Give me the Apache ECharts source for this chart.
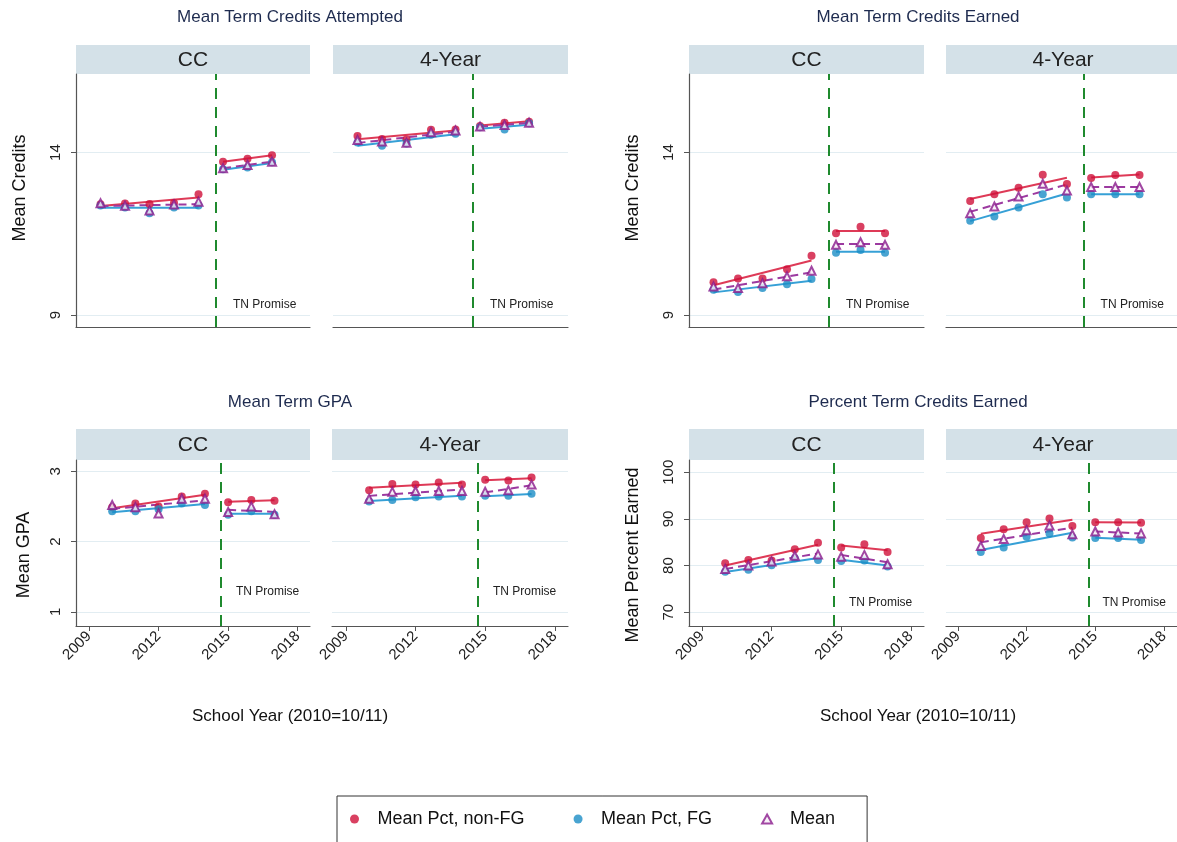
<!DOCTYPE html>
<html><head><meta charset="utf-8">
<script src="https://cdn.jsdelivr.net/npm/echarts@6/dist/echarts.min.js"></script>
<style>html,body{margin:0;padding:0;background:#fff}#c{width:1177px;height:842px}</style>
</head><body><div id="c"></div>
<script>
// ---------- data ----------
const years = [2010, 2011, 2012, 2013, 2014, 2015, 2016, 2017];
const seriesNames = ['Mean Pct, non-FG', 'Mean Pct, FG', 'Mean'];
const panelTitles = ['Mean Term Credits Attempted', 'Mean Term Credits Earned', 'Mean Term GPA', 'Percent Term Credits Earned'];
const yTitles = ['Mean Credits', 'Mean Credits', 'Mean GPA', 'Mean Percent Earned'];
const subLabels = ['CC', '4-Year'];
const xTitle = 'School Year (2010=10/11)';
const xTicks = [2009, 2012, 2015, 2018];
const yTicksCredits = [9, 14];
const yTicksGPA = [1, 2, 3];
const yTicksPct = [70, 80, 90, 100];
const policyYear = 2014.7;
const policyLabel = 'TN Promise';

// Mean Term Credits Attempted
const attCC_nonFG = [12.41, 12.43, 12.42, 12.45, 12.72, 13.72, 13.81, 13.92];
const attCC_FG    = [12.37, 12.31, 12.13, 12.31, 12.37, 13.49, 13.54, 13.70];
const attCC_mean  = [12.44, 12.36, 12.22, 12.40, 12.49, 13.52, 13.62, 13.72];
const att4Y_nonFG = [14.51, 14.42, 14.40, 14.70, 14.71, 14.82, 14.92, 14.95];
const att4Y_FG    = [14.31, 14.21, 14.28, 14.55, 14.58, 14.78, 14.71, 14.90];
const att4Y_mean  = [14.39, 14.34, 14.30, 14.63, 14.68, 14.80, 14.85, 14.92];
// Mean Term Credits Earned
const earnCC_nonFG = [10.01, 10.12, 10.12, 10.41, 10.82, 11.52, 11.72, 11.52];
const earnCC_FG    = [9.78, 9.71, 9.83, 9.95, 10.11, 10.92, 11.00, 10.92];
const earnCC_mean  = [9.88, 9.83, 9.98, 10.19, 10.36, 11.16, 11.24, 11.16];
const earn4Y_nonFG = [12.51, 12.72, 12.92, 13.32, 13.03, 13.22, 13.31, 13.31];
const earn4Y_FG    = [11.90, 12.03, 12.31, 12.72, 12.62, 12.72, 12.72, 12.72];
const earn4Y_mean  = [12.13, 12.34, 12.65, 13.04, 12.83, 12.94, 12.94, 12.94];
// Mean Term GPA
const gpaCC_nonFG = [2.49, 2.54, 2.50, 2.64, 2.68, 2.56, 2.59, 2.58];
const gpaCC_FG    = [2.43, 2.43, 2.46, 2.54, 2.52, 2.38, 2.43, 2.38];
const gpaCC_mean  = [2.52, 2.49, 2.40, 2.61, 2.61, 2.42, 2.50, 2.39];
const gpa4Y_nonFG = [2.73, 2.82, 2.81, 2.84, 2.81, 2.88, 2.87, 2.91];
const gpa4Y_FG    = [2.57, 2.59, 2.63, 2.64, 2.64, 2.65, 2.65, 2.68];
const gpa4Y_mean  = [2.61, 2.71, 2.72, 2.72, 2.72, 2.71, 2.73, 2.81];
// Percent Term Credits Earned
const pctCC_nonFG = [80.5, 81.2, 81.1, 83.5, 84.9, 83.9, 84.6, 82.9];
const pctCC_FG    = [78.7, 79.1, 80.1, 81.6, 81.2, 81.0, 81.1, 79.8];
const pctCC_mean  = [79.3, 80.0, 80.9, 82.1, 82.4, 81.9, 82.3, 80.3];
const pct4Y_nonFG = [85.9, 87.8, 89.3, 90.1, 88.5, 89.3, 89.3, 89.2];
const pct4Y_FG    = [82.9, 83.9, 86.2, 86.9, 86.0, 85.9, 85.9, 85.5];
const pct4Y_mean  = [84.2, 85.7, 87.6, 88.6, 86.7, 87.3, 87.1, 86.9];

// ---------- structure ----------
const panels = [
  { title: panelTitles[0], yTitle: yTitles[0], yTicks: yTicksCredits, yRange: [8.63, 16.42], bottomRow: false,
    subs: [[attCC_nonFG, attCC_FG, attCC_mean], [att4Y_nonFG, att4Y_FG, att4Y_mean]], tn: 9.31 },
  { title: panelTitles[1], yTitle: yTitles[1], yTicks: yTicksCredits, yRange: [8.63, 16.42], bottomRow: false,
    subs: [[earnCC_nonFG, earnCC_FG, earnCC_mean], [earn4Y_nonFG, earn4Y_FG, earn4Y_mean]], tn: 9.31 },
  { title: panelTitles[2], yTitle: yTitles[2], yTicks: yTicksGPA, yRange: [0.80, 3.16], bottomRow: true,
    subs: [[gpaCC_nonFG, gpaCC_FG, gpaCC_mean], [gpa4Y_nonFG, gpa4Y_FG, gpa4Y_mean]], tn: 1.29 },
  { title: panelTitles[3], yTitle: yTitles[3], yTicks: yTicksPct, yRange: [67.06, 102.63], bottomRow: true,
    subs: [[pctCC_nonFG, pctCC_FG, pctCC_mean], [pct4Y_nonFG, pct4Y_FG, pct4Y_mean]], tn: 72.0 }
];

// layout (pixels)
const gridBoxes = [
  [{left: 76, top: 74, width: 234, height: 253, xr: [2009, 2018.55]}, {left: 333, top: 74, width: 235, height: 253, xr: [2009, 2018.59]}],
  [{left: 689, top: 74, width: 235, height: 253, xr: [2009, 2018.59]}, {left: 946, top: 74, width: 234, height: 253, xr: [2009, 2018.55]}],
  [{left: 76, top: 460, width: 234, height: 166, xr: [2008.44, 2018.53]}, {left: 332, top: 460, width: 236, height: 166, xr: [2008.40, 2018.57]}],
  [{left: 689, top: 460, width: 235, height: 166, xr: [2008.44, 2018.57]}, {left: 946, top: 460, width: 234, height: 166, xr: [2008.48, 2018.57]}]
];
const panelCenters = [290, 918, 290, 918];
const titleY = [17, 17, 402, 402];
const yTitleX = [20, 633, 24, 633];
const yTitleY = [188, 188, 555, 555];
const stripBoxes = [[45, 29], [45, 29], [429, 31], [429, 31]];

const colors = ['#cf1039', '#1b8dc6', '#8a1a8c'];
const lineColors = ['#de3a57', '#36a0d6', '#9c3aa0'];
const FONT = '"Liberation Sans", Arial, sans-serif';

function fitSegment(xs, ys) {
  const n = xs.length;
  const mx = xs.reduce((a, b) => a + b, 0) / n;
  const my = ys.reduce((a, b) => a + b, 0) / n;
  let sxy = 0, sxx = 0;
  for (let i = 0; i < n; i++) { sxy += (xs[i] - mx) * (ys[i] - my); sxx += (xs[i] - mx) * (xs[i] - mx); }
  const b = sxy / sxx, a = my - b * mx;
  return [[xs[0], a + b * xs[0]], [xs[n - 1], a + b * xs[n - 1]]];
}

const grids = [], xAxes = [], yAxes = [], scatterSeries = [], lineSeries = [], graphics = [];

panels.forEach((p, pi) => {
  graphics.push({ type: 'text', x: panelCenters[pi], y: titleY[pi],
    style: { text: p.title, font: '17px ' + FONT, fill: '#1e2b4f', textAlign: 'center', textVerticalAlign: 'middle' } });
  graphics.push({ type: 'text', x: yTitleX[pi], y: yTitleY[pi], rotation: Math.PI / 2,
    style: { text: p.yTitle, font: '18px ' + FONT, fill: '#111', textAlign: 'center', textVerticalAlign: 'middle' } });
  if (p.bottomRow) {
    graphics.push({ type: 'text', x: panelCenters[pi], y: 716,
      style: { text: xTitle, font: '17px ' + FONT, fill: '#111', textAlign: 'center', textVerticalAlign: 'middle' } });
  }
  p.subs.forEach((sub, si) => {
    const g = grids.length;
    const box = gridBoxes[pi][si];
    grids.push({ left: box.left, top: box.top, width: box.width, height: box.height, containLabel: false });
    const [sy, sh] = stripBoxes[pi];
    graphics.push({ type: 'rect', shape: { x: box.left, y: sy, width: box.width, height: sh }, style: { fill: '#d4e1e8' }, z: 0 });
    graphics.push({ type: 'text', x: box.left + box.width / 2, y: sy + sh / 2 + 1,
      style: { text: subLabels[si], font: '21px ' + FONT, fill: '#222', textAlign: 'center', textVerticalAlign: 'middle' }, z: 1 });

    xAxes.push({
      type: 'value', gridIndex: g, min: box.xr[0], max: box.xr[1],
      axisLine: { show: true, onZero: false, lineStyle: { color: '#555', width: 1.2 } },
      axisTick: { show: p.bottomRow, customValues: xTicks, length: 5, lineStyle: { color: '#555' } },
      axisLabel: { show: p.bottomRow, customValues: xTicks, rotate: 45, fontSize: 15, fontFamily: FONT, color: '#222', margin: 8,
        formatter: v => String(Math.round(v)) },
      splitLine: { show: false }
    });
    yAxes.push({
      type: 'value', gridIndex: g, min: p.yRange[0], max: p.yRange[1],
      axisLine: { show: si === 0, onZero: false, lineStyle: { color: '#555', width: 1.2 } },
      axisTick: { show: si === 0, customValues: p.yTicks, length: 5, lineStyle: { color: '#555' } },
      axisLabel: { show: si === 0, customValues: p.yTicks, rotate: 90, fontSize: 15, fontFamily: FONT, color: '#222', margin: 13,
        formatter: v => String(v) },
      splitLine: { show: true, lineStyle: { color: '#e2edf2', width: 1.2 } }
    });

    sub.forEach((vals, k) => {
      const s = {
        type: 'scatter', name: seriesNames[k], xAxisIndex: g, yAxisIndex: g,
        data: years.map((y, i) => [y, vals[i]]),
        symbol: k === 2 ? 'triangle' : 'circle',
        symbolSize: 8,
        itemStyle: k === 2 ? { color: '#f6eef6', borderColor: colors[2], borderWidth: 2 } : { color: colors[k] },
        z: 4, silent: true
      };
      if (k === 0) {
        s.markLine = {
          silent: true, symbol: ['none', 'none'], label: { show: false },
          lineStyle: { color: '#1f8a2e', type: [11, 8], width: 2 },
          data: [{ xAxis: policyYear }], animation: false
        };
        s.markPoint = {
          silent: true, symbol: 'circle', symbolSize: 1, itemStyle: { color: 'rgba(0,0,0,0)' },
          label: { show: true, position: 'inside', formatter: policyLabel, fontSize: 12, fontFamily: FONT, color: '#222' },
          data: [{ coord: [2016.7, p.tn] }], animation: false
        };
      }
      scatterSeries.push(s);
      const pre = fitSegment(years.slice(0, 5), vals.slice(0, 5));
      const post = fitSegment(years.slice(5), vals.slice(5));
      [pre, post].forEach(seg => {
        lineSeries.push({
          type: 'line', name: seriesNames[k], xAxisIndex: g, yAxisIndex: g, data: seg,
          showSymbol: false, silent: true, z: 3,
          lineStyle: { color: lineColors[k], width: 2, type: k === 2 ? [8, 5] : 'solid' }
        });
      });
    });
  });
});

const chart = echarts.init(document.getElementById('c'), null, { renderer: 'canvas' });
chart.setOption({
  animation: false,
  backgroundColor: '#ffffff',
  grid: grids,
  xAxis: xAxes,
  yAxis: yAxes,
  legend: {
    data: seriesNames, left: 337, top: 796,
    padding: [14, 32, 16, 13], itemWidth: 10, itemHeight: 9, itemGap: 49,
    borderColor: '#333', borderWidth: 1, selectedMode: false,
    textStyle: { fontSize: 18, fontFamily: FONT, color: '#111', padding: [0, 0, 0, 13] }
  },
  graphic: graphics,
  series: scatterSeries.concat(lineSeries)
});
</script></body></html>
